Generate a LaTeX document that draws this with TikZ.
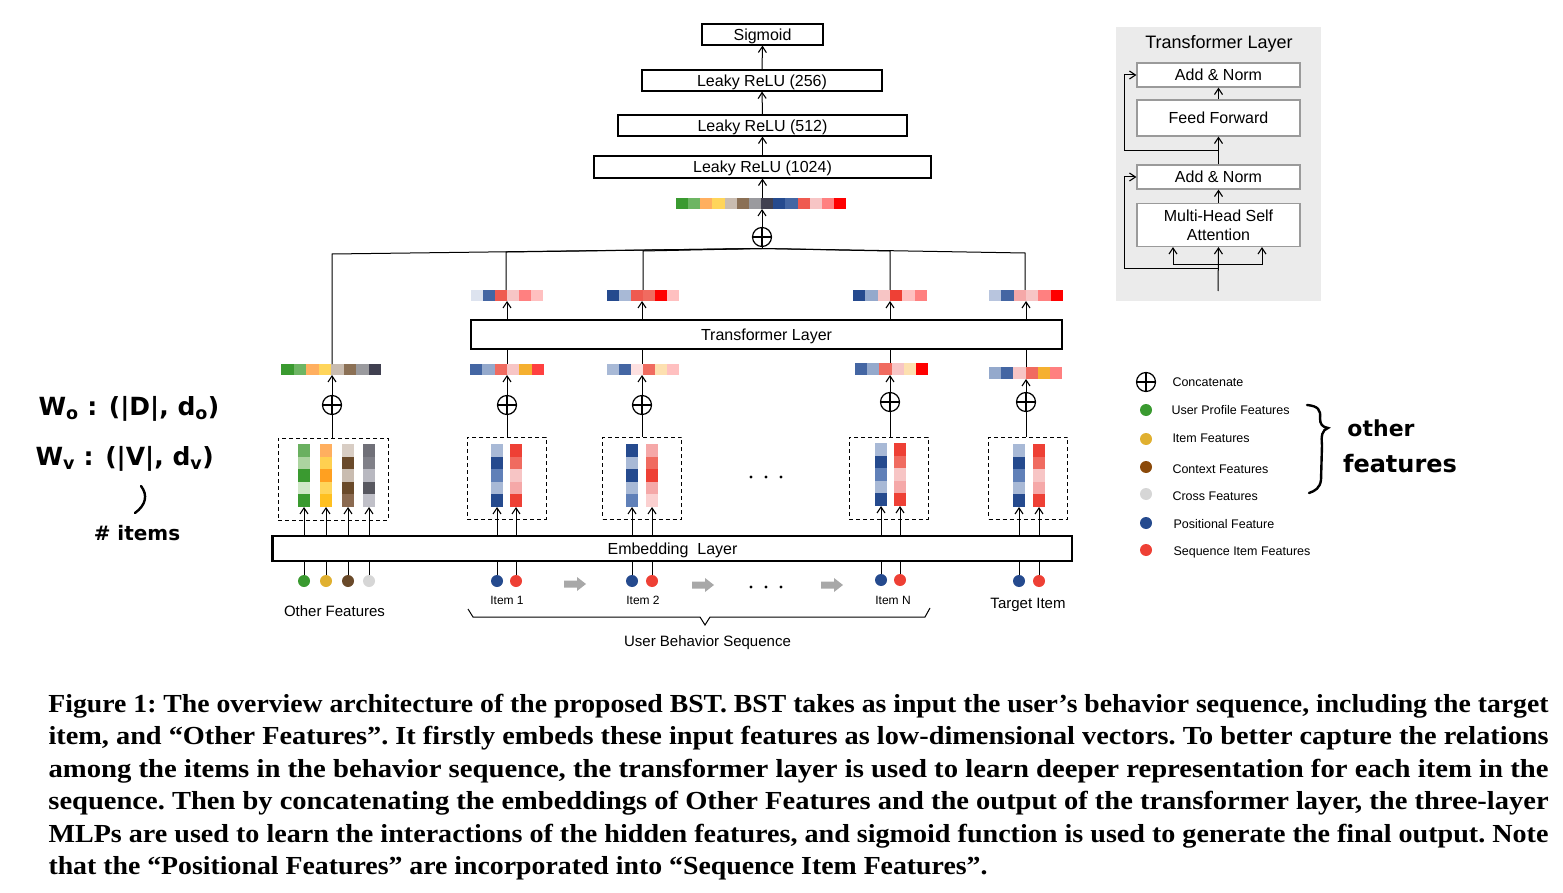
\documentclass[tikz,border=0pt]{standalone}
\usepackage{fontspec}
\setmainfont{Liberation Serif}
\setsansfont{Liberation Sans}
\newfontfamily\handfont{DejaVu Sans}
\usetikzlibrary{arrows.meta,calc}
\newcommand\fsz[1]{\fontsize{#1}{#1}\selectfont}
\newcommand\capfont{\rmfamily\bfseries\fontsize{26}{32}\selectfont\frenchspacing}
% palette
\definecolor{Ga}{HTML}{3A9A30}\definecolor{Gb}{HTML}{6DB563}\definecolor{Gc}{HTML}{ACD4A0}\definecolor{Gd}{HTML}{D0E8C8}\definecolor{Ge}{HTML}{6AB060}
\definecolor{Oa}{HTML}{FFAF5F}\definecolor{Ya}{HTML}{FFD55A}\definecolor{Ob}{HTML}{FFA020}\definecolor{Yb}{HTML}{FFC020}\definecolor{Yc}{HTML}{FFD050}
\definecolor{BEa}{HTML}{C9BCB0}\definecolor{BRa}{HTML}{8B7055}\definecolor{BRb}{HTML}{6A4A2A}\definecolor{BEb}{HTML}{D8CDC4}\definecolor{BRc}{HTML}{8B6A50}
\definecolor{GRa}{HTML}{9A9A9E}\definecolor{DKa}{HTML}{404050}\definecolor{GRb}{HTML}{707078}\definecolor{GRc}{HTML}{808088}\definecolor{GRd}{HTML}{B8B8C0}\definecolor{GRe}{HTML}{585860}\definecolor{GRf}{HTML}{C0C0C8}
\definecolor{Ba}{HTML}{254A8E}\definecolor{Bb}{HTML}{4466A3}\definecolor{Bc}{HTML}{6080B8}\definecolor{Bd}{HTML}{94A9CC}\definecolor{Be}{HTML}{A8B9D6}\definecolor{Bf}{HTML}{DDE3EF}\definecolor{Bg}{HTML}{B8C5DE}
\definecolor{Ra}{HTML}{EE4035}\definecolor{Rb}{HTML}{F06B60}\definecolor{Rc}{HTML}{F7C5C5}\definecolor{Rd}{HTML}{F5A8A8}\definecolor{Re}{HTML}{FF8080}\definecolor{Rf}{HTML}{FFC0C0}\definecolor{Rg}{HTML}{FF0000}\definecolor{Rh}{HTML}{FF4040}\definecolor{Ri}{HTML}{FDE0E0}\definecolor{Rj}{HTML}{FBD0D0}\definecolor{Rk}{HTML}{EF5A50}
\definecolor{ORa}{HTML}{F5B030}\definecolor{PEa}{HTML}{FDE0B0}
\definecolor{gold}{HTML}{E0B030}\definecolor{legbrown}{HTML}{8B4A0A}\definecolor{lgray}{HTML}{D6D6D6}
\definecolor{panel}{HTML}{EBEBEB}\definecolor{pborder}{HTML}{9A9A9A}\definecolor{garrow}{HTML}{A8A8A8}
% horizontal colour bar: name, x, y, cell width, height, n, colours
\newcommand\colbar[7]{%
  \foreach \cc [count=\ii from 0] in {#7}{\fill[\cc] ({#2+\ii*#4},#3) rectangle ++(#4,#5);}
  \node[inner sep=0pt,outer sep=0pt,minimum width={#6*#4},minimum height={#5},anchor=north west] (#1) at (#2,#3) {};}
% vertical strip of 5 cells: name, x, y, width, cell height, colours
\newcommand\colstrip[6]{%
  \foreach \cc [count=\ii from 0] in {#6}{\fill[\cc] (#2,{#3+\ii*#5}) rectangle ++(#4,#5);}
  \node[inner sep=0pt,outer sep=0pt,minimum width={#4},minimum height={5*#5},anchor=north west] (#1) at (#2,#3) {};}
\newcommand\grayarrow[2]{\fill[garrow] ({#1-11},{#2-3.5}) -- ({#1+2},{#2-3.5}) -- ({#1+2},{#2-7}) -- ({#1+11},#2) -- ({#1+2},{#2+7}) -- ({#1+2},{#2+3.5}) -- ({#1-11},{#2+3.5}) -- cycle;}
\newcommand\threedots[1]{\foreach \xx in {751,766,781}{\fill (\xx,#1) circle (1.6);}}
\begin{document}
\begin{tikzpicture}[x=1pt,y=-1pt,font=\sffamily,line width=1pt,
  arr/.style={-{Straight Barb[length=6pt,width=8pt,line width=1.1pt]}},
  lbox/.style={draw,line width=1.1pt,inner sep=0pt,text depth=0pt,font=\sffamily\fsz{16}},
  pbox/.style={draw=pborder,fill=white,line width=1.2pt,inner sep=0pt,minimum width=163pt,font=\sffamily\fsz{16},align=center},
  dbox/.style={draw,dash pattern=on 4pt off 3pt,line width=1pt,inner sep=0pt},
  oplus/.style={circle,draw,line width=1.2pt,minimum size=19pt,inner sep=0pt,
    path picture={\draw[line width=1.2pt] (path picture bounding box.north) -- (path picture bounding box.south) (path picture bounding box.west) -- (path picture bounding box.east);}},
  fdot/.style={circle,fill=#1,inner sep=0pt,minimum size=12pt},
  leg/.style={anchor=west,inner sep=0pt,text depth=0pt,font=\sffamily\fsz{12.5}},
  lab/.style={inner sep=0pt,text depth=0pt,font=\sffamily\fsz{15}},
  slab/.style={inner sep=0pt,text depth=0pt,font=\sffamily\fsz{12}},
  hand/.style={inner sep=0pt,text depth=0pt}]
\useasboundingbox (0,0) rectangle (1563,893);

% ---------------- MLP stack ----------------
\node[lbox,minimum width=121pt,minimum height=21pt] (sig) at (762.5,34.5) {Sigmoid};
\node[lbox,minimum width=240pt,minimum height=21pt] (r256) at (762,80.5) {Leaky ReLU (256)};
\node[lbox,minimum width=289pt,minimum height=21pt] (r512) at (762.5,125.5) {Leaky ReLU (512)};
\node[lbox,minimum width=337pt,minimum height=22pt] (r1024) at (762.5,167) {Leaky ReLU (1024)};
\draw[arr] (r256.north) -- (sig.south);
\draw[arr] (r512.north) -- (r256.south);
\draw[arr] (r1024.north) -- (r512.south);
\colbar{cat}{676}{198}{12.15}{11}{14}{Ga,Gb,Oa,Ya,BEa,BRa,GRa,DKa,Ba,Bb,Rk,Rc,Re,Rg}
\draw[arr] (cat.north -| r1024) -- (r1024.south);
\node[oplus] (sum) at (762,237) {};
\draw[arr] (sum.north) -- (sum.north |- cat.south);
\coordinate (J) at (762,248.5);
\draw (J) -- (sum.south);

% ---------------- transformer layer ----------------
\node[lbox,minimum width=591pt,minimum height=29pt] (trans) at (766.5,334.5) {Transformer Layer};

% upper (output) vectors
\colbar{u1}{471}{290}{12}{11}{6}{Bf,Bb,Rk,Rc,Re,Rf}
\colbar{u2}{607}{290}{12}{11}{6}{Ba,Be,Rk,Rb,Rg,Rf}
\colbar{uN}{853}{290}{12.3}{11}{6}{Ba,Bd,Rc,Ra,Rf,Re}
\colbar{uT}{989}{290}{12.3}{11}{6}{Bg,Bb,Rd,Rc,Re,Rg}

% lower vectors
\colbar{lo}{281}{364}{12.5}{11}{8}{Ga,Gb,Oa,Ya,BEa,BRa,GRa,DKa}
\colbar{l1}{470}{364}{12.3}{11}{6}{Bb,Bd,Rb,Rc,ORa,Rh}
\colbar{l2}{607}{364}{12}{11}{6}{Be,Bb,Ri,Rb,PEa,Rf}
\colbar{lN}{855}{363}{12.2}{12}{6}{Bb,Bd,Rb,Rc,PEa,Rg}
\colbar{lT}{989}{367}{12.2}{12}{6}{Bd,Bb,Rc,Rb,ORa,Re}

% concat circles
\node[oplus] (po) at (332,405) {};
\node[oplus] (p1) at (507,405) {};
\node[oplus] (p2) at (642,405) {};
\node[oplus] (pN) at (890,402) {};
\node[oplus] (pT) at (1026,402) {};

% dashed boxes
\node[dbox,minimum width=110pt,minimum height=82pt] (dO) at (333,479) {};
\node[dbox,minimum width=79pt,minimum height=82pt] (d1) at (506.5,478) {};
\node[dbox,minimum width=79pt,minimum height=82pt] (d2) at (642,478) {};
\node[dbox,minimum width=79pt,minimum height=82pt] (dN) at (888.5,478) {};
\node[dbox,minimum width=79pt,minimum height=82pt] (dT) at (1028,478) {};

% embedding strips
\colstrip{so1}{298}{444}{12}{12.6}{Ge,Gc,Ga,Gd,Ga}
\colstrip{so2}{320}{444}{12}{12.6}{Oa,Yc,Ob,Ya,Yb}
\colstrip{so3}{342}{444}{12}{12.6}{BEb,BRb,BEa,BRb,BRc}
\colstrip{so4}{363}{444}{12}{12.6}{GRb,GRc,GRd,GRe,GRf}
\colstrip{s1a}{491}{444}{12}{12.6}{Be,Ba,Bc,Be,Ba}
\colstrip{s1b}{510}{444}{12}{12.6}{Ra,Rb,Rc,Rd,Ra}
\colstrip{s2a}{626}{444}{12}{12.6}{Ba,Be,Ba,Be,Bc}
\colstrip{s2b}{646}{444}{12}{12.6}{Rd,Rb,Ra,Rd,Rj}
\colstrip{sNa}{875}{443}{12}{12.6}{Be,Ba,Bc,Be,Ba}
\colstrip{sNb}{894}{443}{12}{12.6}{Ra,Rb,Rc,Rd,Ra}
\colstrip{sTa}{1013}{444}{12}{12.6}{Be,Ba,Bc,Be,Ba}
\colstrip{sTb}{1033}{444}{12}{12.6}{Ra,Rb,Rc,Rd,Ra}

% embedding layer
\node[lbox,minimum width=799pt,minimum height=25pt] (emb) at (672.5,548.5) {Embedding\ \ Layer};
\draw[line width=2.2pt] (emb.south west) -- (emb.north west);

% input dots
\node[fdot=Ga] (io1) at (304,581) {};
\node[fdot=gold] (io2) at (326,581) {};
\node[fdot=BRb] (io3) at (348,581) {};
\node[fdot=lgray] (io4) at (369,581) {};
\node[fdot=Ba] (i1a) at (497,581) {};
\node[fdot=Ra] (i1b) at (516,581) {};
\node[fdot=Ba] (i2a) at (632,581) {};
\node[fdot=Ra] (i2b) at (652,581) {};
\node[fdot=Ba] (iNa) at (881,580) {};
\node[fdot=Ra] (iNb) at (900,580) {};
\node[fdot=Ba] (iTa) at (1019,581) {};
\node[fdot=Ra] (iTb) at (1039,581) {};

% connectors: input dots -> embedding -> strips
\foreach \i/\s in {io1/so1,io2/so2,io3/so3,io4/so4,i1a/s1a,i1b/s1b,i2a/s2a,i2b/s2b,iNa/sNa,iNb/sNb,iTa/sTa,iTb/sTb}{
  \draw (\i.north) -- (emb.south -| \i);
  \draw[arr] (emb.north -| \i) -- (\i |- \s.south);
}
% dashed box -> concat -> lower vector
\foreach \p/\d/\l in {po/dO/lo,p1/d1/l1,p2/d2/l2,pN/dN/lN,pT/dT/lT}{
  \draw (\p |- \d.north) -- (\p.south);
  \draw[arr] (\p.north) -- (\p |- \l.south);
}
% lower vectors -> transformer -> upper vectors
\foreach \p/\l/\u in {p1/l1/u1,p2/l2/u2,pN/lN/uN,pT/lT/uT}{
  \draw (\p |- \l.north) -- (\p |- trans.south);
  \draw[arr] (\p |- trans.north) -- (\p |- \u.south);
}
% branches to the top concatenation
\coordinate (ko) at (332,254);
\coordinate (k1) at (506,252);
\coordinate (k2) at (643,251);
\coordinate (kN) at (890,251);
\coordinate (kT) at (1025,253);
\draw (ko |- lo.north) -- (ko) -- (J);
\draw (k1 |- u1.north) -- (k1) -- (J);
\draw (k2 |- u2.north) -- (k2) -- (J);
\draw (kN |- uN.north) -- (kN) -- (J);
\draw (kT |- uT.north) -- (kT) -- (J);

% dots, gray arrows, labels
\threedots{477}
\threedots{587}
\grayarrow{575}{584}
\grayarrow{703}{585}
\grayarrow{832}{585}
\node[lab] (lo_t) at (334.5,611) {Other Features};
\node[slab] (t1) at (507,600) {Item 1};
\node[slab] (t2) at (643,600) {Item 2};
\node[slab] (tN) at (893,600) {Item N};
\node[lab] (tT) at (1028,603) {Target Item};
\draw[line width=1pt] (468,609) -- (473,617) -- (700,617) -- (705,625) -- (710,617) -- (925,617) -- (930,608);
\node[lab] (ubs) at (707.5,641) {User Behavior Sequence};

% ---------------- transformer layer panel ----------------
\fill[panel] (1116,27) rectangle (1321,301);
\node[inner sep=0pt,text depth=0pt,font=\sffamily\fsz{18}] (ptitle) at (1219,42) {Transformer Layer};
\node[pbox,minimum height=24pt,text depth=0pt] (an1) at (1218.5,75) {Add \& Norm};
\node[pbox,minimum height=36pt,text depth=0pt] (ff) at (1218.5,118) {Feed Forward};
\node[pbox,minimum height=24pt,text depth=0pt] (an2) at (1218.5,177) {Add \& Norm};
\node[pbox,minimum height=43pt] (mh) at (1218.5,225) {Multi-Head Self\\[3pt]Attention};
\draw[arr] (ff.north) -- (an1.south);
\draw[arr] (an2.north) -- (ff.south);
\draw[arr] (mh.north) -- (an2.south);
\coordinate (pin) at (1218,291);
\coordinate (bl) at (1173,265);
\coordinate (br) at (1262,265);
\coordinate (rr1) at (1218,269);
\coordinate (rr2) at (1218,151);
\draw[arr] (pin) -- (mh.south);
\draw (bl) -- (br);
\draw[arr] (bl) -- (bl |- mh.south);
\draw[arr] (br) -- (br |- mh.south);
\draw[arr] (rr1) -| ($(an2.west)+(-12,0)$) -- (an2.west);
\draw[arr] (rr2) -| ($(an1.west)+(-12,0)$) -- (an1.west);

% ---------------- legend ----------------
\node[oplus] (lgc) at (1146,382) {};
\node[leg] at (1172,382) {Concatenate};
\node[fdot=Ga] (lg1) at (1146,410) {};
\node[leg] at (1171,410) {User Profile Features};
\node[fdot=gold] (lg2) at (1146,439) {};
\node[leg] at (1172,438) {Item Features};
\node[fdot=legbrown] (lg3) at (1146,467) {};
\node[leg] at (1172,469) {Context Features};
\node[fdot=lgray] (lg4) at (1146,494) {};
\node[leg] at (1172,496) {Cross Features};
\node[fdot=Ba] (lg5) at (1146,523) {};
\node[leg] at (1173,524) {Positional Feature};
\node[fdot=Ra] (lg6) at (1146,550) {};
\node[leg] at (1173,551) {Sequence Item Features};

% ---------------- handwritten notes ----------------
\draw[line width=2.4pt,line cap=round] (1307,405) .. controls (1318,406) and (1321,410) .. (1320,418) .. controls (1320,424) and (1322,427) .. (1328,428) .. controls (1322,430) and (1321,436) .. (1322,445) -- (1321,480) .. controls (1320,488) and (1315,491) .. (1309,493);
\node[hand,font=\handfont\bfseries\fsz{22}] (oth) at (1381,428) {other};
\node[hand,font=\handfont\bfseries\fsz{24}] (fea) at (1400,463) {features};
\node[hand,font=\handfont\bfseries\fsz{25},anchor=west] (w0) at (38,406) {W\textsubscript{o} : (|D|, d\textsubscript{o})};
\node[hand,font=\handfont\bfseries\fsz{25},anchor=west] (wv) at (35,456) {W\textsubscript{v} : (|V|, d\textsubscript{v})};
\draw[line width=2.4pt,line cap=round] (141,486) .. controls (148,495) and (146,505) .. (135,513);
\node[hand,font=\handfont\bfseries\fsz{20}] (hitems) at (137,533) {\# items};

% ---------------- caption ----------------
\node[anchor=base west,inner sep=0pt,font=\capfont] (c1) at (48,712) {\resizebox{1500pt}{\height}{Figure 1: The overview architecture of the proposed BST. BST takes as input the user’s behavior sequence, including the target}};
\node[anchor=base west,inner sep=0pt,font=\capfont] (c2) at (48,744.5) {\resizebox{1500pt}{\height}{item, and “Other Features”. It firstly embeds these input features as low-dimensional vectors. To better capture the relations}};
\node[anchor=base west,inner sep=0pt,font=\capfont] (c3) at (48,777) {\resizebox{1500pt}{\height}{among the items in the behavior sequence, the transformer layer is used to learn deeper representation for each item in the}};
\node[anchor=base west,inner sep=0pt,font=\capfont] (c4) at (48,809.5) {\resizebox{1500pt}{\height}{sequence. Then by concatenating the embeddings of Other Features and the output of the transformer layer, the three-layer}};
\node[anchor=base west,inner sep=0pt,font=\capfont] (c5) at (48,842) {\resizebox{1500pt}{\height}{MLPs are used to learn the interactions of the hidden features, and sigmoid function is used to generate the final output. Note}};
\node[anchor=base west,inner sep=0pt,font=\capfont] (c6) at (48,874.5) {\resizebox{939pt}{\height}{that the “Positional Features” are incorporated into “Sequence Item Features”.}};
\end{tikzpicture}
\end{document}
